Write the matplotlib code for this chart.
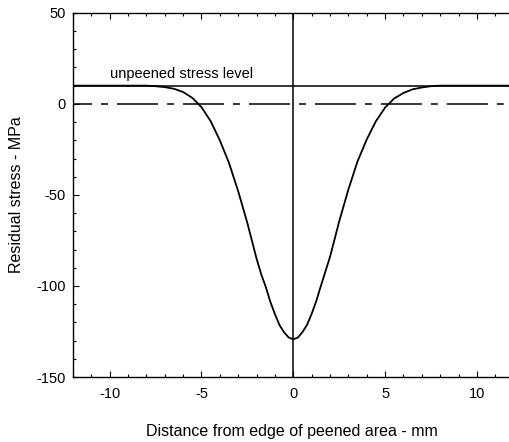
"""Residual stress profile across the edge of a peened area."""

import matplotlib
matplotlib.use('Agg')
import matplotlib.pyplot as plt
from matplotlib.ticker import MultipleLocator

plt.rcParams['font.family'] = ['Liberation Sans', 'DejaVu Sans']
plt.rcParams['lines.scale_dashes'] = False
plt.rcParams['axes.unicode_minus'] = False

# Stress profile (mm, MPa)
distance = [-12.0, -9.0, -8.0, -7.5, -7.0, -6.5, -6.0, -5.5, -5.0, -4.5, -4.0,
            -3.5, -3.0, -2.5, -2.0, -1.75, -1.5, -1.25, -1.0, -0.75, -0.5,
            -0.25, 0.0, 0.25, 0.5, 0.75, 1.0, 1.25, 1.5, 1.75, 2.0, 2.5, 3.0,
            3.5, 4.0, 4.5, 5.0, 5.5, 6.0, 6.5, 7.0, 7.5, 8.0, 9.0, 11.8]
stress = [10.0, 10.0, 10.0, 9.7, 9.2, 8.3, 6.5, 3.3, -1.8, -9.5, -20.0,
          -32.5, -48.0, -65.5, -85.0, -93.5, -100.5, -108.7, -115.5, -121.5,
          -125.5, -128.3, -129.3, -128.3, -125.3, -121.3, -115.3, -108.3,
          -100.0, -92.0, -84.0, -64.5, -47.0, -31.5, -19.5, -9.5, -2.0, 3.0,
          6.0, 8.0, 9.0, 9.7, 10.0, 10.0, 10.0]

unpeened_level = 10
x_range = (-12, 11.8)
y_range = (-150, 50)
x_ticks = [-10, -5, 0, 5, 10]
y_ticks = [-150, -100, -50, 0, 50]

fig = plt.figure(figsize=(5.10, 4.42), dpi=100)
ax = fig.add_axes([0.143, 0.147, 0.857, 0.824])

lw = 1.1
ax.axhline(unpeened_level, color='black', lw=lw)
ax.axvline(0, color='black', lw=lw)
# long dash / short dash zero line
ax.plot(x_range, [0, 0], color='black', lw=lw,
        linestyle=(15.8, (29.5, 6.5, 5.0, 6.5)))
ax.plot(distance, stress, color='black', lw=1.3)

ax.text(-10, 12.5, 'unpeened stress level', fontsize=10.5, ha='left', va='bottom')

ax.set_xlim(*x_range)
ax.set_ylim(*y_range)
ax.set_xticks(x_ticks)
ax.set_yticks(y_ticks)
ax.xaxis.set_minor_locator(MultipleLocator(1))
ax.yaxis.set_minor_locator(MultipleLocator(10))
ax.tick_params(which='both', direction='in', top=True, right=False,
               labelsize=10.5, width=0.8, pad=5)
ax.tick_params(axis='x', which='both', pad=7)
ax.tick_params(which='major', length=4)
ax.tick_params(which='minor', length=2)
ax.spines['right'].set_visible(False)
for side in ('left', 'bottom', 'top'):
    ax.spines[side].set_linewidth(1.0)

ax.set_xlabel('Distance from edge of peened area - mm', fontsize=11.5, labelpad=17)
ax.set_ylabel('Residual stress - MPa', fontsize=11.5, labelpad=9)

fig.savefig('out.png', dpi=100)
